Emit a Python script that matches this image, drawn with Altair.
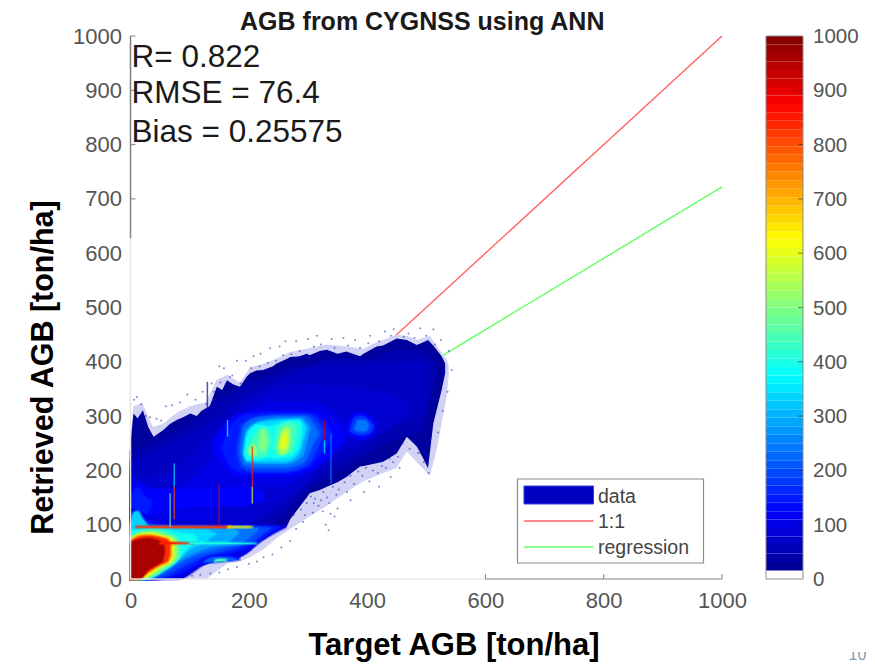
import altair as alt
import pandas as pd

FONT = "Liberation Sans"
GREY = "#555555"
JET_DOM = [0, 125, 375, 625, 875, 1000]
JET_COL = ["#000080", "#0000ff", "#00ffff", "#ffff00", "#ff0000", "#800000"]
jet = alt.Scale(domain=JET_DOM, range=JET_COL, interpolate="rgb", clamp=True)

x_ticks = [0, 200, 400, 600, 800, 1000]
y_ticks = [0, 100, 200, 300, 400, 500, 600, 700, 800, 900, 1000]

fringe = [(0,0,262),(5,0,318),(20,0,324),(38,0,280),(55,0,286),(78,0,306),(100,0,318),(128,0,326),
          (145,14,366),(163,28,376),(185,32,362),(202,40,390),(225,55,396),(247,75,406),(270,92,418),
          (298,112,424),(332,135,432),(365,160,428),(394,180,424),(416,190,436),(450,205,450),(467,235,448),
          (484,215,440),(506,190,448),(517,235,430),(535,340,404),(538,375,392)]
envelope = [(0,0,250),(5,0,305),(12,0,296),(21,0,311),(30,0,280),(39,0,262),(47,0,268),(55,0,274),(66,0,285),(78,0,293),
            (89,0,298),(101,12,305),(112,20,300),(120,24,310),(134,29,318),(146,32,354),(155,33,348),(163,34,366),
            (174,35,358),(185,40,354),(196,47,372),(202,52,379),(213,66,384),(224,72,385),(241,84,392),(247,88,397),
            (264,96,405),(270,110,409),(286,133,410),(298,150,415),(303,158,412),(320,164,420),(332,170,422),
            (350,178,415),(365,188,419),(388,207,410),(394,208,415),(416,213,428),(427,216,430),(450,231,443),
            (467,262,440),(484,244,431),(495,222,436),(503,204,440),(512,287,430),(526,348,410),(532,379,397)]

bands = [
    (50, [(0,0,235),(40,0,250),(100,20,285),(150,40,330),(200,70,360),(250,110,380),(300,165,395),(350,200,405),(400,230,405),(450,260,420),(490,270,420),(507,330,405),(515,370,395)]),
    (65, [(0,0,215),(40,0,232),(100,30,265),(150,50,300),(200,90,340),(250,130,365),(300,175,385),(350,215,395),(400,245,395),(450,285,400),(490,300,400),(503,340,390)]),
    (80, [(0,0,200),(30,0,185),(60,20,190),(100,40,225),(150,65,275),(200,100,325),(250,140,350),(300,180,360),(330,215,355),(380,250,350),(420,270,345),(450,290,335),(470,305,315)]),
    (100, [(0,90,185),(20,90,175),(45,100,165),(90,110,175),(140,110,225),(165,160,270),(200,170,310),(250,170,325),(300,195,325),(340,225,310),(365,260,285)]),
    (125, [(0,125,155),(12,110,175),(35,118,165),(80,132,165),(130,135,165),(190,135,170),(225,145,160)]),
    (150, [(0,135,150),(12,118,168),(25,120,150),(35,135,145)]),
    (125, [(140,240,250),(160,205,285),(190,190,305),(250,190,310),(300,200,310),(340,230,295),(360,255,270)]),
    (150, [(155,238,244),(172,205,285),(195,195,302),(250,195,306),(298,205,306),(328,240,288),(340,255,270)]),
    (120, [(365,272,276),(372,262,302),(390,258,306),(408,262,298),(415,278,286)]),
    (180, [(372,272,276),(378,268,296),(390,265,300),(403,268,292),(410,278,284)]),
    (240, [(380,276,280),(385,272,292),(396,272,292),(402,278,286)]),
    (185, [(180,232,238),(188,205,282),(215,198,298),(260,198,302),(298,210,302),(320,250,285),(326,265,270)]),
    (230, [(185,232,238),(192,210,283),(220,205,298),(260,205,300),(293,215,300),(310,252,285),(318,265,270)]),
    (280, [(190,230,235),(196,215,275),(225,212,292),(262,212,296),(290,225,296),(300,262,285),(303,275,280)]),
    (340, [(192,230,234),(197,218,270),(220,216,288),(262,216,293),(285,232,294),(294,265,285),(297,276,280)]),
    (390, [(193,228,232),(198,220,265),(215,220,284),(235,224,280),(245,222,284),(270,226,291),(285,245,291),(290,275,282)]),
    (440, [(198,235,240),(205,225,255),(225,225,280),(232,235,275),(238,250,255)]),
    (440, [(243,240,245),(250,228,280),(270,232,288),(280,260,285),(282,272,276)]),
    (510, [(200,232,236),(208,228,248),(213,232,242)]),
    (500, [(218,248,252),(222,235,275),(228,240,270),(230,252,256)]),
    (530, [(250,235,240),(255,230,270),(265,235,280),(270,255,275)]),
    (590, [(252,245,248),(256,240,262),(263,242,270),(265,255,260)]),
    (90, [(0,0,130),(25,0,118),(50,0,106),(80,0,100),(130,30,99),(190,44,98),(220,70,98),(245,86,97),(262,95,97)]),
    (110, [(0,0,125),(25,0,112),(50,0,104),(80,5,100),(130,32,99),(190,46,98),(225,74,97),(245,88,97),(255,94,97)]),
    (150, [(0,0,116),(20,0,108),(45,0,100),(80,10,98),(130,36,98),(195,58,97),(225,76,97),(240,88,96),(250,94,96)]),
    (130, [(118,26,30),(132,30,44),(168,34,44),(184,36,38)]),
    (215, [(125,31,33),(140,31,40),(165,34,40),(178,35,37)]),
    (195, [(0,0,108),(20,0,102),(50,3,98),(80,18,97),(120,40,97),(170,55,96),(205,68,96),(225,84,95),(235,92,95)]),
    (240, [(0,0,102),(25,0,98),(50,8,97),(75,24,96),(105,42,96),(150,56,95),(190,68,94),(205,80,94),(215,90,94)]),
    (290, [(0,0,98),(25,0,96),(50,14,96),(72,28,95),(95,42,94),(130,58,93),(165,68,92),(178,80,90),(182,85,88)]),
    (340, [(0,0,95),(30,3,94),(60,20,94),(78,34,93),(100,55,92),(130,72,90),(140,80,85),(144,82,83)]),
    (390, [(0,0,88),(30,1,92),(55,15,92),(75,30,86),(90,50,84),(105,66,82),(112,72,76)]),
    (450, [(0,0,80),(20,0,88),(40,6,90),(60,20,86),(76,32,78),(84,42,70)]),
    (520, [(0,0,76),(18,0,85),(38,8,87),(58,22,81),(73,32,75),(78,42,68)]),
    (610, [(0,0,72),(16,0,82),(35,10,84),(50,22,80),(65,30,76),(72,38,70)]),
    (720, [(0,0,70),(12,0,79),(30,12,81),(50,25,78),(63,32,74),(69,42,66)]),
    (830, [(0,0,68),(8,0,74),(16,3,78),(30,14,79),(50,27,76),(62,33,72),(66,45,62)]),
    (960, [(0,0,62),(5,0,70),(16,0,73),(30,17,75),(44,26,72),(53,32,68),(57,45,60)]),
    (330, [(0,96,98),(5,96,122),(12,97,125),(20,97,112),(28,97,100)]),
    (450, [(143,32,35),(152,33,37),(162,34,36)]),
    (850, [(50,64,69),(80,65,67),(108,65.5,66.5)]),
    (400, [(100,64.5,67),(150,64.5,67),(190,65,66.5),(212,65.5,66.5)]),
    (820, [(10,95,97),(60,94.5,97),(130,94.5,97),(170,95,97)]),
    (620, [(165,95,96.5),(190,95,96.5),(205,95.5,96)]),
]

spikes = [
    (74,170,213,350),(74,110,170,800),(67,96,158,480),(150,96,176,900),
    (206,139,170,600),(206,170,244,850),(328,255,293,900),(328,231,255,380),
    (164,262,293,400),(339,176,268,250),(130,311,363,50),
]

speck_x = [6,11,18,26,33,44,52,60,70,84,96,110,122,137,141,150,158,172,180,195,208,220,236,252,262,280,
           300,315,340,360,380,405,430,445,470,490,512,525,538,543,536,528,520,470,478,490,500,455,440,
           420,395,372,350,345,335,325,310,295,280,270,255,240,225,214,200,180,165,150,135,118,104,330,338,
           298,305,312,318,326,332,342,352,362,372,385,398,410,425,438,452,460,472,486,496,504,
           276,288,292,308,322,336,348,366,378,392,404,418,432,444,
           128,140,152,168,186,204,218,232,246,258,272,286,310,322,345,368,388,402,420,440,462,480,500,515]
speck_y = [330,335,322,300,298,295,292,318,320,325,340,330,345,360,345,392,388,375,402,402,410,415,425,428,
           438,438,442,448,442,444,440,448,456,460,452,462,460,440,420,385,345,310,270,282,255,232,215,205,
           188,170,160,145,130,115,90,125,140,118,92,70,58,45,40,32,28,22,18,12,10,8,6,100,120,
           140,152,148,135,160,150,170,165,178,190,198,205,200,208,222,225,250,240,232,215,195,
           118,128,105,122,145,140,155,160,175,190,180,195,205,215,
           322,328,362,372,360,388,392,398,402,412,414,420,428,432,426,430,426,434,438,448,446,444,448,432]

line_x = [0, 1000]
red_y = [0, 1000]
green_y = [65, 722]

X = alt.Scale(domain=[0, 1000], nice=False)
Y = alt.Scale(domain=[0, 1000], nice=False)
W, H = 591.5, 543

rows = []
for i, (v, pts) in enumerate(bands):
    for (a, lo, hi) in pts:
        rows.append({"id": i, "v": v, "x": a, "lo": lo, "hi": hi})
band_df = pd.DataFrame(rows)
env_df = pd.DataFrame(envelope, columns=["x", "lo", "hi"])
fr_df = pd.DataFrame(fringe, columns=["x", "lo", "hi"])
sp_df = pd.DataFrame(spikes, columns=["x", "lo", "hi", "v"])
pts_df = pd.DataFrame({"x": speck_x, "y": speck_y})
lines_df = pd.DataFrame({"x": line_x, "red": red_y, "green": green_y})

ax_x = alt.Axis(values=x_ticks, grid=False, domain=False, ticks=False, labelFontSize=22, labelFont=FONT,
                labelColor=GREY, labelPadding=11, title="Target AGB [ton/ha]", titleFont=FONT, titleFontSize=31,
                titleFontWeight="bold", titleColor="black", titleX=323, titleY=51, labelFlush=False, format="d")
ax_y = alt.Axis(values=y_ticks, grid=False, domain=False, ticks=False, labelFontSize=22, labelFont=FONT,
                labelColor=GREY, labelPadding=9, title="Retrieved AGB [ton/ha]", titleFont=FONT, titleFontSize=30.5,
                titleFontWeight="bold", titleColor="black", titleX=-72, titleY=331, labelFlush=False, format="d")

base_lines = alt.Chart(lines_df)
red = base_lines.mark_line(color="#ff6464", strokeWidth=1.4).encode(
    x=alt.X("x:Q", scale=X, axis=ax_x), y=alt.Y("red:Q", scale=Y, axis=ax_y))
green = base_lines.mark_line(color="#64ff64", strokeWidth=1.4).encode(x="x:Q", y="green:Q")

halo = alt.Chart(fr_df).mark_area(color="#d2d2f4", interpolate="linear").encode(x="x:Q", y="lo:Q", y2="hi:Q")
specks = alt.Chart(pts_df).mark_circle(size=4, color="#2020b0", opacity=0.55).encode(x="x:Q", y="y:Q")
env = alt.Chart(env_df).mark_area(color="#00009c", interpolate="linear").encode(x="x:Q", y="lo:Q", y2="hi:Q")
cont = alt.Chart(band_df).mark_area(interpolate="monotone", strokeWidth=3, strokeOpacity=0.4).encode(
    x="x:Q", y="lo:Q", y2="hi:Q", detail="id:N",
    color=alt.Color("v:Q", scale=jet, legend=None),
    stroke=alt.Color("v:Q", scale=jet, legend=None))
spk = alt.Chart(sp_df).mark_rule(opacity=0.7, strokeWidth=1.5).encode(
    x="x:Q", y="lo:Q", y2="hi:Q", color=alt.Color("v:Q", scale=jet, legend=None))

left_dark = alt.Chart(pd.DataFrame({"a": [628], "b": [1000]})).mark_rule(color="#808080", strokeWidth=1.5).encode(
    x=alt.value(0), y="a:Q", y2="b:Q")
left_light = alt.Chart(pd.DataFrame({"a": [0], "b": [628]})).mark_rule(color="#e6e6e6", strokeWidth=1.5).encode(
    x=alt.value(0), y="a:Q", y2="b:Q")
bot_light = alt.Chart(pd.DataFrame({"a": [0], "b": [600]})).mark_rule(color="#e6e6e6", strokeWidth=1.5).encode(
    y=alt.value(H), x="a:Q", x2="b:Q")
bot_dark = alt.Chart(pd.DataFrame({"a": [600], "b": [1000]})).mark_rule(color="#808080", strokeWidth=1.2).encode(
    y=alt.value(H), x="a:Q", x2="b:Q")
ty = alt.Chart(pd.DataFrame({"t": [700, 800, 900, 1000]})).mark_rule(color="#808080").encode(
    y="t:Q", x=alt.value(0), x2=alt.value(5))
tx = alt.Chart(pd.DataFrame({"t": [600, 800, 1000]})).mark_rule(color="#808080").encode(
    x="t:Q", y=alt.value(H), y2=alt.value(H - 5))

notes = alt.Chart(pd.DataFrame({"t": ["R= 0.822", "RMSE = 76.4", "Bias = 0.25575"], "y": [943, 877, 805]})).mark_text(
    font=FONT, fontSize=31.5, color="#1a1a1a", align="left", baseline="alphabetic").encode(
    x=alt.value(1), y="y:Q", text="t:N")

# legend box, placed in pixels inside the plot area
box = alt.Chart(pd.DataFrame({"k": [1]})).mark_rect(fill="white", stroke="#8c8c8c", strokeWidth=1.2).encode(
    x=alt.value(387), x2=alt.value(573), y=alt.value(443), y2=alt.value(527))
sw = alt.Chart(pd.DataFrame({"k": [1]})).mark_rect(fill="#0000c0", stroke="#3040e0").encode(
    x=alt.value(393.5), x2=alt.value(463), y=alt.value(450), y2=alt.value(468))
lg_r = alt.Chart(pd.DataFrame({"k": [1]})).mark_rule(color="#ff6464", strokeWidth=1.4).encode(
    x=alt.value(393.5), x2=alt.value(463), y=alt.value(485))
lg_g = alt.Chart(pd.DataFrame({"k": [1]})).mark_rule(color="#64ff64", strokeWidth=1.4).encode(
    x=alt.value(393.5), x2=alt.value(463), y=alt.value(511))
lg_txt = alt.layer(*[
    alt.Chart(pd.DataFrame({"t": [t]})).mark_text(font=FONT, fontSize=19.5, color="#444444", align="left",
                                                  baseline="middle").encode(
        x=alt.value(467.5), y=alt.value(py), text="t:N")
    for t, py in [("data", 460.5), ("1:1", 485.5), ("regression", 511.5)]])

# colour bar, on the same 0-1000 vertical scale, placed to the right of the plot
CB0, CB1 = 635.5, 672.5
levels = [15.625 * i for i in range(1, 64)]
cb_df = pd.DataFrame({"a": levels, "b": [v + 15.625 for v in levels], "v": [v + 7.8 for v in levels]})
cb_rect = alt.Chart(cb_df).mark_rect().encode(
    y="a:Q", y2="b:Q", x=alt.value(CB0), x2=alt.value(CB1),
    color=alt.Color("v:Q", scale=jet, legend=None))
cb_frame = alt.Chart(pd.DataFrame({"a": [0], "b": [1000]})).mark_rect(fill=None, stroke="#8c8c8c", strokeWidth=1).encode(
    y="a:Q", y2="b:Q", x=alt.value(CB0), x2=alt.value(CB1))
cb_ticks = alt.Chart(pd.DataFrame({"t": y_ticks[1:-1]})).mark_rule(color="#333333", opacity=0.6).encode(
    y="t:Q", x=alt.value(CB1 - 5), x2=alt.value(CB1))
cb_labels = alt.Chart(pd.DataFrame({"t": y_ticks})).mark_text(font=FONT, fontSize=20.5, color=GREY, align="left",
                                                              baseline="middle", dy=1).encode(
    y="t:Q", x=alt.value(682.5), text=alt.Text("t:Q", format="d"))
page_no = alt.Chart(pd.DataFrame({"t": ["10"]})).mark_text(font=FONT, fontSize=16, color="#7f9db9", align="center",
                                                           baseline="alphabetic").encode(
    x=alt.value(727), y=alt.value(624), text="t:N")
page_cover = alt.Chart(pd.DataFrame({"k": [1]})).mark_rect(fill="white").encode(
    x=alt.value(715), x2=alt.value(740), y=alt.value(604), y2=alt.value(616))

chart = alt.layer(red, green, halo, env, specks, cont, spk, left_light, bot_light, left_dark, bot_dark, ty, tx,
                  notes, box, sw, lg_r, lg_g, lg_txt, cb_rect, cb_frame, cb_ticks, cb_labels, page_no, page_cover
                  ).properties(
    width=W, height=H,
    autosize=alt.AutoSizeParams(type="none"),
    padding={"left": 122.5, "top": 28, "right": 145, "bottom": 84},
    title=alt.TitleParams("AGB from CYGNSS using ANN", font=FONT, fontSize=25, fontWeight="bold", color="#1a1a1a",
                          offset=-10, dx=-4),
).configure_view(stroke=None)

chart.save("out.html", embed_options={"renderer": "svg", "actions": False})
